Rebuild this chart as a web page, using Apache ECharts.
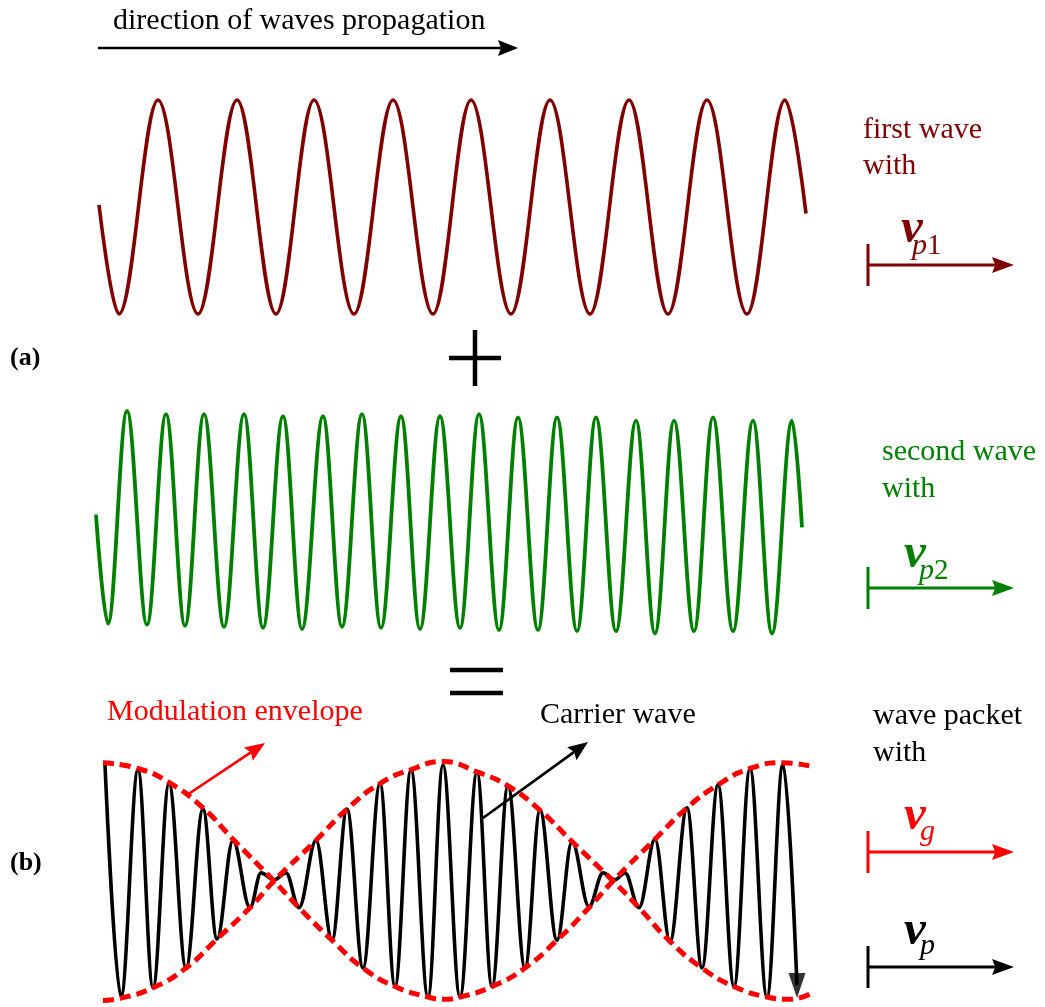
<!DOCTYPE html>
<html>
<head>
<meta charset="utf-8">
<script src="https://cdn.jsdelivr.net/npm/echarts@6/dist/echarts.min.js"></script>
<style>
  html, body { margin: 0; padding: 0; background: #ffffff; }
  #chart { width: 1045px; height: 1007px; }
</style>
</head>
<body>
<div id="chart"></div>
<script>
// Position along the propagation direction (arbitrary length units) and displacement
// (in units of the wave amplitude) at the start, at every crest/trough and at the end.

// (a) first wave, phase velocity v_p1
const wave1X = [9, 29, 68, 108, 147, 186, 224, 264, 303, 343, 381, 421, 460, 500, 539, 578, 617, 657, 695, 716];
const wave1Y = [0.02, -1, 1, -1, 1, -1, 1, -1, 1, -1, 1, -1, 1, -1, 1, -1, 1, -1, 1, -0.06];

// (a) second wave, phase velocity v_p2
const wave2X = [6, 18, 37, 57, 76, 95, 114, 134, 154, 173, 193, 212, 233, 252, 272, 291, 311, 330, 350,
                370, 389, 409, 428, 448, 467, 487, 506, 526, 546, 565, 584, 604, 623, 643, 663, 682, 702, 712];
const wave2Y = [0.06, -0.95, 1.02, -0.96, 0.99, -0.97, 0.99, -0.98, 0.99, -0.99, 0.97, -1.00, 0.97, -0.98, 0.99,
                -0.99, 0.97, -1.00, 0.97, -0.99, 0.99, -1.01, 0.96, -1.01, 0.96, -1.02, 0.96, -1.02, 0.93,
                -1.04, 0.93, -1.02, 0.96, -1.02, 0.93, -1.04, 0.93, -0.06];

// (b) wave packet: carrier wave
const carrierX = [15, 31, 48, 63, 79, 96, 113, 127, 143, 160, 171, 184, 196, 209, 226, 242, 257, 273, 290, 305,
                  321, 338, 353, 370, 387, 402, 418, 435, 450, 467, 482, 499, 513, 525, 535, 549, 565, 580, 597, 612,
                  628, 644, 660, 677, 693, 707];
const carrierY = [1.00, -1.00, 0.96, -0.92, 0.84, -0.75, 0.62, -0.50, 0.35, -0.23, 0.07, 0.01, 0.07, -0.23, 0.35, -0.51,
                  0.62, -0.75, 0.84, -0.91, 0.96, -1.00, 1.00, -1.00, 0.94, -0.91, 0.82, -0.75, 0.61, -0.51, 0.34,
                  -0.22, 0.07, 0.01, 0.07, -0.23, 0.36, -0.52, 0.63, -0.75, 0.83, -0.91, 0.97, -1.00, 1.01, -0.90];

// (b) modulation envelope, the branch that starts at the top
const envAX = [13, 48, 79, 113, 143, 184, 209, 242, 273, 305, 338, 353, 370, 402, 435, 467, 499, 523, 565, 597, 628, 660, 693, 725];
const envAY = [1.02, 0.97, 0.85, 0.63, 0.36, 0.00, -0.23, -0.51, -0.75, -0.91, -1.00, -1.02, -1.00, -0.91, -0.75, -0.51,
               -0.23, 0.00, 0.36, 0.63, 0.83, 0.97, 1.02, 0.98];
// (b) modulation envelope, the branch that starts at the bottom
const envBX = [13, 31, 63, 96, 127, 160, 184, 226, 257, 290, 321, 353, 387, 418, 450, 482, 523, 549, 580, 612, 644, 677, 700, 723];
const envBY = [-1.03, -1.01, -0.92, -0.75, -0.50, -0.23, 0.00, 0.35, 0.62, 0.84, 0.96, 1.03, 0.94, 0.82, 0.61, 0.34,
               0.00, -0.23, -0.52, -0.75, -0.91, -1.00, -1.02, -0.96];

const pairs = (xs, ys) => xs.map((x, i) => [x, ys[i]]);

const SERIF = '"Liberation Serif", "Times New Roman", serif';
const DARKRED = '#800000';
const GREEN = '#008000';
const RED = '#ff0000';
const BLACK = '#000000';
const MID = 0.22; // distance from the alphabetic baseline to the middle of the line box, in em

// text placed by its baseline
function label(x, baseline, text, size, color, weight) {
  return {
    type: 'text', x: x, y: baseline - size * MID, silent: true,
    style: {
      text: text, font: (weight || 'normal') + ' ' + size + 'px ' + SERIF,
      fill: color, textAlign: 'left', textVerticalAlign: 'middle'
    }
  };
}

// straight arrow with a slightly notched head
function arrow(x1, y1, x2, y2, color, width, headLen, headHalf) {
  const dx = x2 - x1, dy = y2 - y1, len = Math.hypot(dx, dy);
  const ux = dx / len, uy = dy / len, nx = -uy, ny = ux;
  const bx = x2 - ux * headLen, by = y2 - uy * headLen;
  const mx = x2 - ux * headLen * 0.85, my = y2 - uy * headLen * 0.85;
  return [
    { type: 'line', silent: true, shape: { x1: x1, y1: y1, x2: mx, y2: my }, style: { stroke: color, lineWidth: width } },
    { type: 'polygon', silent: true,
      shape: { points: [[x2, y2], [bx + nx * headHalf, by + ny * headHalf], [mx, my], [bx - nx * headHalf, by - ny * headHalf]] },
      style: { fill: color } }
  ];
}

// velocity symbol: tick bar, arrow, italic v with a subscript
function velocity(y, color, vX, vBase, subX, subBase, sub) {
  const rich = {
    i: { font: 'italic 30px ' + SERIF, fill: color },
    n: { font: 'normal 29px ' + SERIF, fill: color }
  };
  return [
    { type: 'line', silent: true, shape: { x1: 868, y1: y - 21, x2: 868, y2: y + 21 }, style: { stroke: color, lineWidth: 3 } },
    ...arrow(868, y, 1014, y, color, 3, 22, 8),
    label(vX, vBase, 'v', 49, color, 'italic bold'),
    { type: 'text', x: subX, y: subBase - 30 * MID, silent: true,
      style: { text: sub, rich: rich, font: 'italic 30px ' + SERIF, fill: color, textAlign: 'left', textVerticalAlign: 'middle' } }
  ];
}

const graphics = [
  label(113, 28, 'direction of waves propagation', 30, BLACK),
  ...arrow(98, 48, 518, 48, BLACK, 2.7, 20, 8),

  label(863, 137, 'first wave', 30, DARKRED),
  label(863, 173, 'with', 30, DARKRED),
  ...velocity(265, DARKRED, 901, 240, 912, 253, '{i|p}{n|1}'),

  label(10, 364, '(a)', 26, BLACK, 'bold'),
  // plus sign
  { type: 'line', silent: true, shape: { x1: 449, y1: 358, x2: 501, y2: 358 }, style: { stroke: BLACK, lineWidth: 4.5 } },
  { type: 'line', silent: true, shape: { x1: 475, y1: 330, x2: 475, y2: 386 }, style: { stroke: BLACK, lineWidth: 4.5 } },

  label(882, 459, 'second wave', 30, GREEN),
  label(882, 496, 'with', 30, GREEN),
  ...velocity(588, GREEN, 904, 565, 919, 578, '{i|p}{n|2}'),

  // equals sign
  { type: 'line', silent: true, shape: { x1: 450, y1: 670, x2: 503, y2: 670 }, style: { stroke: BLACK, lineWidth: 4.5 } },
  { type: 'line', silent: true, shape: { x1: 450, y1: 693, x2: 503, y2: 693 }, style: { stroke: BLACK, lineWidth: 4.5 } },

  label(107, 719, 'Modulation envelope', 30, RED),
  ...arrow(187, 795, 265, 743, RED, 2.7, 20, 8),
  label(540, 722, 'Carrier wave', 30, BLACK),
  ...arrow(483, 818, 588, 742, BLACK, 2.7, 20, 8),

  label(873, 723, 'wave packet', 30, BLACK),
  label(873, 760, 'with', 30, BLACK),
  ...velocity(852, RED, 904, 827, 920, 839, '{i|g}'),
  ...velocity(967, BLACK, 904, 942, 920, 953, '{i|p}'),

  label(10, 869, '(b)', 26, BLACK, 'bold')
];

const gridBox = (top, height) => ({ left: 90, width: 740, top: top, height: height, outerBoundsMode: 'none', containLabel: false });
const xAx = (i) => ({ gridIndex: i, type: 'value', min: 0, max: 740, show: false });
const yAx = (i) => ({ gridIndex: i, type: 'value', min: -1, max: 1, show: false });

const waveLine = (idx, data, color, width) => ({
  type: 'line', xAxisIndex: idx, yAxisIndex: idx, data: data,
  smooth: 0.363, smoothMonotone: 'x', symbol: 'none', clip: false, silent: true,
  lineStyle: { color: color, width: width, cap: 'butt', join: 'round' }, z: 2
});
const envelopeLine = (data) => ({
  type: 'line', xAxisIndex: 2, yAxisIndex: 2, data: data,
  smooth: 0.5, symbol: 'none', clip: false, silent: true,
  lineStyle: { color: RED, width: 5, type: [11, 6], cap: 'butt' }, z: 3
});

const chart = echarts.init(document.getElementById('chart'), null, { renderer: 'canvas' });
chart.setOption({
  backgroundColor: '#ffffff',
  animation: false,
  grid: [gridBox(100, 214), gridBox(413, 216), gridBox(765, 232)],
  xAxis: [xAx(0), xAx(1), xAx(2)],
  yAxis: [yAx(0), yAx(1), yAx(2)],
  series: [
    waveLine(0, pairs(wave1X, wave1Y), DARKRED, 3.6),
    waveLine(1, pairs(wave2X, wave2Y), GREEN, 3.8),
    waveLine(2, pairs(carrierX, carrierY), BLACK, 3.6),
    envelopeLine(pairs(envAX, envAY)),
    envelopeLine(pairs(envBX, envBY)),
    {
      // arrowhead closing the carrier wave
      type: 'scatter', xAxisIndex: 2, yAxisIndex: 2, silent: true, clip: false, z: 4,
      data: [[carrierX[carrierX.length - 1], carrierY[carrierY.length - 1]]],
      symbol: 'triangle', symbolSize: [17, 25], symbolRotate: 180,
      itemStyle: { color: BLACK }
    }
  ],
  graphic: { elements: graphics }
});
</script>
</body>
</html>
